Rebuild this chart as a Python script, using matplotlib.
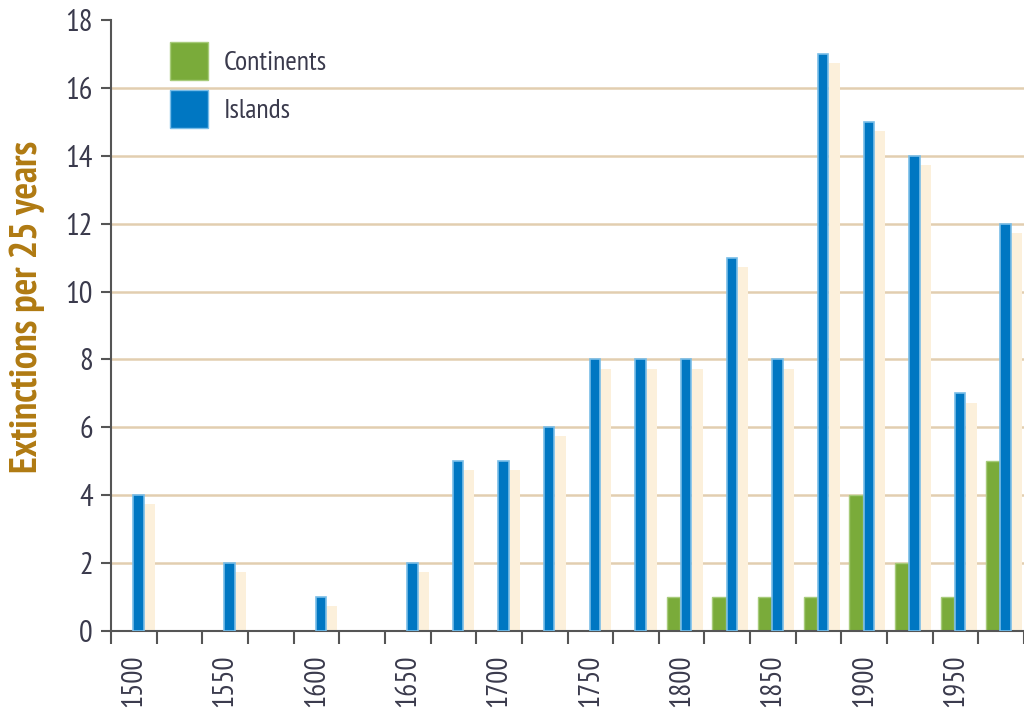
#!/usr/bin/env python3

import numpy as np
import matplotlib
import matplotlib.pyplot as plt
from matplotlib.patches import Patch
matplotlib.use('Agg')

# extinctions per 25-year period, continents vs islands
periods = [1500, 1525, 1550, 1575, 1600, 1625, 1650, 1675, 1700, 1725,
           1750, 1775, 1800, 1825, 1850, 1875, 1900, 1925, 1950, 1975]
continents = [0, 0, 0, 0, 0, 0, 0, 0, 0, 0,
              0, 0, 1, 1, 1, 1, 4, 2, 1, 5]
islands = [4, 0, 2, 0, 1, 0, 2, 5, 5, 6,
           8, 8, 8, 11, 8, 17, 15, 14, 7, 12]
yticks = list(range(0, 19, 2))

BLUE = '#0077c2'
BLUE_EDGE = '#79bde8'
GREEN = '#7aab3a'
GREEN_EDGE = '#a7cb7a'
SHADOW = '#fcf0db'
GRID = '#e2ceb0'
TEXT = '#3a3a4c'
GOLD = '#b07a12'

plt.rcParams['font.family'] = ['PT Sans Narrow', 'Roboto Condensed',
                               'DejaVu Sans']


def main():
    fig = plt.figure(figsize=(10.24, 7.09), dpi=100)
    ax = fig.add_axes([111 / 1024, 78 / 709, 913 / 1024, 611 / 709])

    x = np.arange(len(periods))
    isl = np.array(islands, dtype=float)
    con = np.array(continents, dtype=float)

    # shadow behind island bars
    shadow_h = np.where(isl > 0, np.maximum(isl - 0.27, 0), 0)
    ax.bar(x + 0.34, shadow_h, width=0.24, color=SHADOW, linewidth=0,
           zorder=1)
    ax.bar(x - 0.175, con, width=0.30, color=GREEN, edgecolor=GREEN_EDGE,
           linewidth=np.where(con > 0, 1.0, 0), zorder=2)
    ax.bar(x + 0.10, isl, width=0.23, color=BLUE, edgecolor=BLUE_EDGE,
           linewidth=np.where(isl > 0, 1.2, 0), zorder=3)

    ax.set_xlim(-0.5, (1024 - 111) / 45.9 - 0.5)
    ax.set_ylim(0, 18)

    for v in yticks[1:-1]:
        ax.axhline(v, color=GRID, linewidth=1.8, zorder=0)

    for s in ['top', 'right']:
        ax.spines[s].set_visible(False)
    for s in ['left', 'bottom']:
        ax.spines[s].set_color('#555555')
        ax.spines[s].set_linewidth(1.5)

    ax.set_yticks(yticks)
    ax.tick_params(axis='y', direction='out', length=7, width=1.5,
                   color='#555555', labelsize=22, labelcolor=TEXT, pad=6)

    ax.set_xticks(np.arange(len(periods) + 1) - 0.5)
    ax.set_xticklabels([])
    ax.tick_params(axis='x', which='major', direction='out', length=9,
                   width=1.5, color='#555555')
    ax.set_xticks(x[::2], minor=True)
    ax.set_xticklabels([str(p) for p in periods[::2]], minor=True,
                       rotation=90)
    ax.tick_params(axis='x', which='minor', length=0, labelsize=21,
                   labelcolor=TEXT, pad=17)

    fig.text(27 / 1024, 1 - 307 / 709, 'Extinctions per 25 years',
             rotation=90, ha='center', va='center', fontsize=28,
             fontweight='bold', color=GOLD)

    handles = [Patch(facecolor=GREEN, edgecolor=GREEN_EDGE, label='Continents'),
               Patch(facecolor=BLUE, edgecolor=BLUE_EDGE, label='Islands')]
    leg = fig.legend(handles=handles, loc='upper left',
                     bbox_to_anchor=(170 / 1024, 1 - 42 / 709),
                     frameon=False, fontsize=20, handlelength=1.37,
                     handleheight=1.726, labelspacing=0.36,
                     handletextpad=0.58, borderpad=0, borderaxespad=0)
    for t in leg.get_texts():
        t.set_color(TEXT)

    fig.savefig('out.png', dpi=100)


if __name__ == '__main__':
    main()
